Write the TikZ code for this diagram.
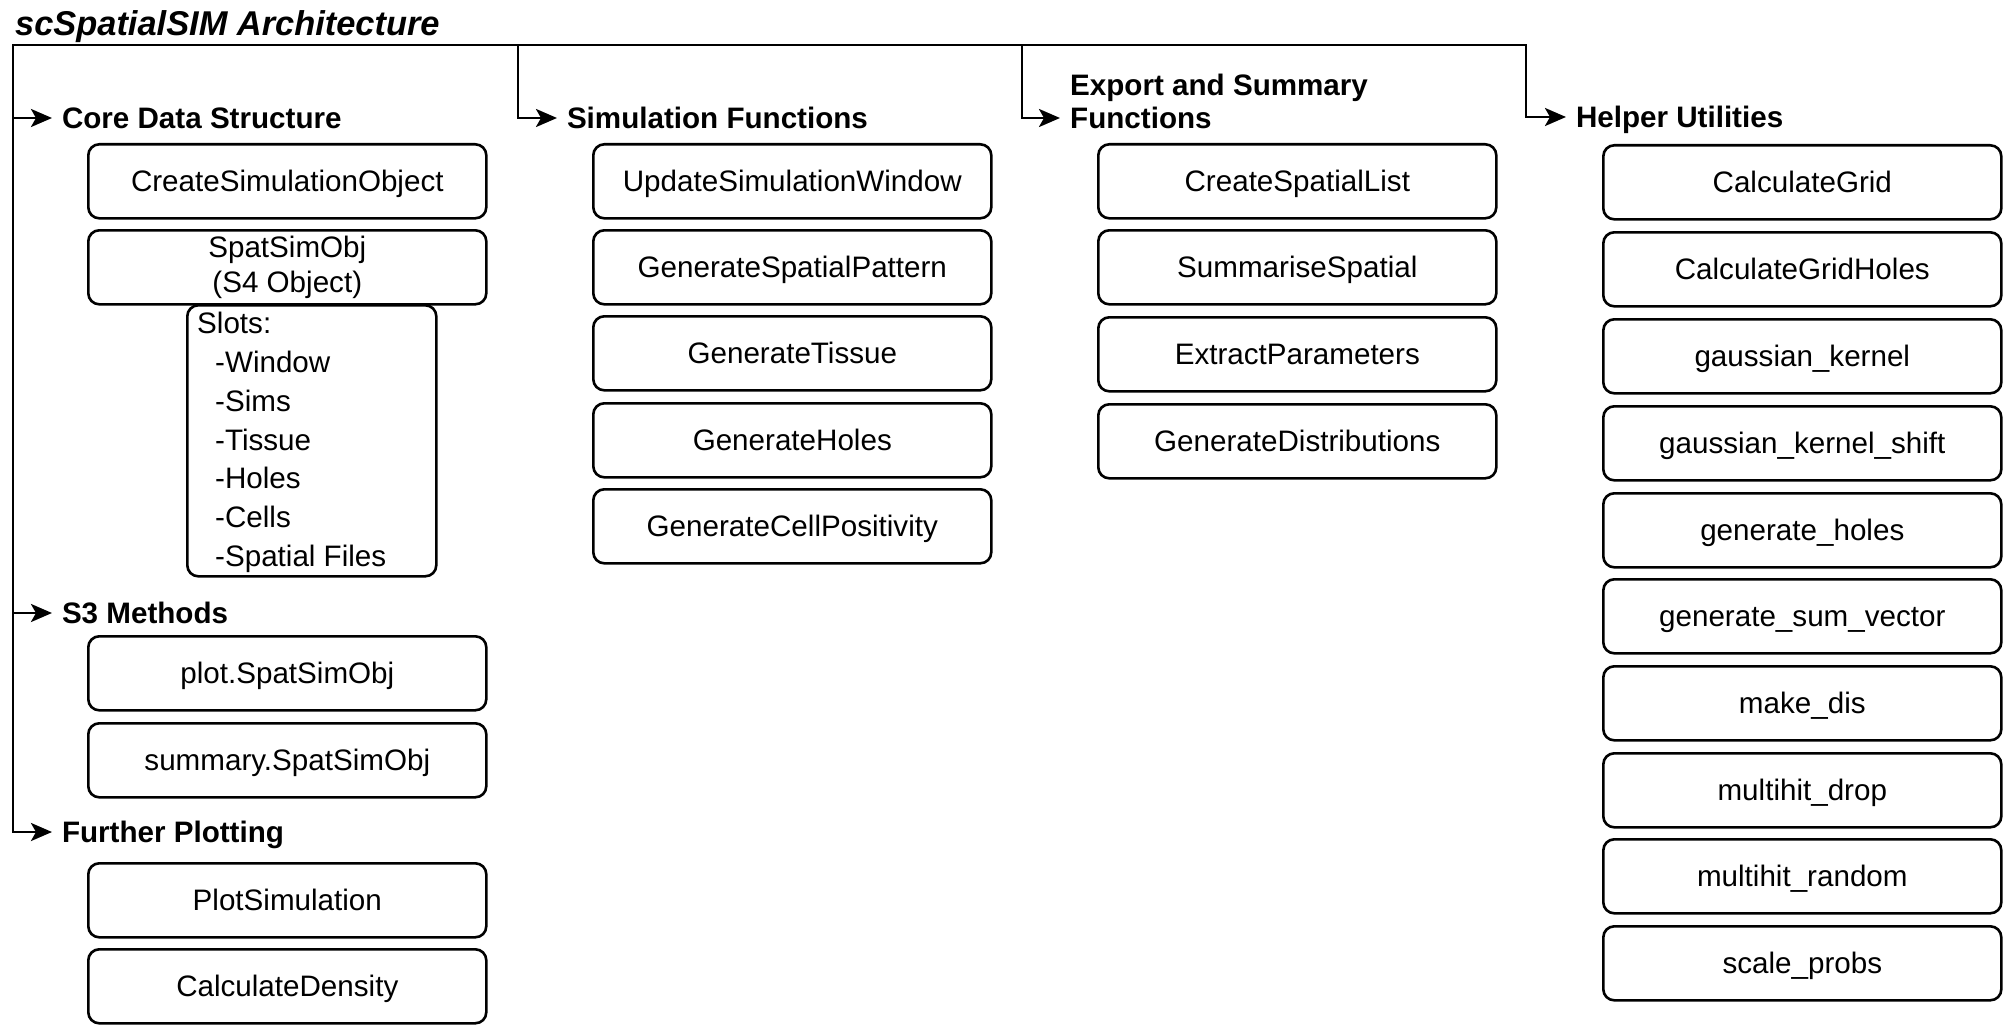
\documentclass[tikz,border=0pt]{standalone}
\usepackage{fontspec}
\setmainfont{Liberation Sans}
\usetikzlibrary{arrows.meta}
\begin{document}
\begin{tikzpicture}[x=1pt,y=-1pt,
  fboxbase/.style={draw, line width=2.6pt, rounded corners=11pt, minimum width=398pt, minimum height=74pt,
    anchor=north west, inner sep=0pt, font=\fontsize{29.6}{35}\selectfont, align=center},
  fbox/.style={fboxbase, text height=26.8pt, text depth=6.3pt},
  head/.style={anchor=west, inner sep=0pt, outer xsep=10pt, font=\bfseries\fontsize{29.6}{33}\selectfont,
    text height=21pt, text depth=0pt},
  conn/.style={line width=2.8pt, line cap=rect},
  arr/.style={conn, -{Stealth[length=21pt,width=18pt,inset=5pt]}}
]
\useasboundingbox (0,0) rectangle (2011,1030);

% title
\node[anchor=base west, inner sep=0pt, font=\bfseries\itshape\fontsize{34.4}{40}\selectfont] (title) at (15,36) {scSpatialSIM Architecture};

% junctions
\coordinate (root) at (13,45);
\coordinate (j2) at (518,45);
\coordinate (j3) at (1022,45);
\coordinate (j4) at (1526,45);
\coordinate (h3in) at (1060,118);

% headers
\node[head] (h1) at (52,118) {Core Data Structure};
\node[head] (h2) at (557,118) {Simulation Functions};
\node[anchor=north west, inner sep=0pt, align=left, font=\bfseries\fontsize{29.6}{33}\selectfont] (h3) at (1070,74) {Export and Summary\\Functions};
\node[head] (h4) at (1566,117) {Helper Utilities};
\node[head] (h5) at (52,613) {S3 Methods};
\node[head] (h6) at (52,832) {Further Plotting};

% connectors
\draw[arr] (j4) -- (root) |- (h6.west);
\draw[arr] (root) |- (h1.west);
\draw[arr] (root) |- (h5.west);
\draw[arr] (j2) |- (h2.west);
\draw[arr] (j3) |- (h3in);
\draw[arr] (j4) |- (h4.west);

% column 1
\node[fbox] (c1a) at (87,143) {CreateSimulationObject};
\node[fboxbase] (c1b) at (87,229) {SpatSimObj\\(S4 Object)};
\node[draw, line width=2.6pt, rounded corners=11pt, minimum width=249pt, minimum height=271pt, anchor=north west, inner sep=0pt] (slots) at (186,304) {};
\node[anchor=north west, inner sep=0pt, align=left, font=\fontsize{29.6}{38.8}\selectfont] (slotstxt) at (197,312)
  {Slots:\\\hspace*{18pt}-Window\\\hspace*{18pt}-Sims\\\hspace*{18pt}-Tissue\\\hspace*{18pt}-Holes\\\hspace*{18pt}-Cells\\\hspace*{18pt}-Spatial Files};
\node[fbox] (c1c) at (87,635) {plot.SpatSimObj};
\node[fbox] (c1d) at (87,722) {summary.SpatSimObj};
\node[fbox] (c1e) at (87,862) {PlotSimulation};
\node[fbox] (c1f) at (87,948) {CalculateDensity};

% column 2
\node[fbox] (c2a) at (592,143) {UpdateSimulationWindow};
\node[fbox] (c2b) at (592,229) {GenerateSpatialPattern};
\node[fbox] (c2c) at (592,315) {GenerateTissue};
\node[fbox] (c2d) at (592,402) {GenerateHoles};
\node[fbox] (c2e) at (592,488) {GenerateCellPositivity};

% column 3
\node[fbox] (c3a) at (1097,143) {CreateSpatialList};
\node[fbox] (c3b) at (1097,229) {SummariseSpatial};
\node[fbox] (c3c) at (1097,316) {ExtractParameters};
\node[fbox] (c3d) at (1097,403) {GenerateDistributions};

% column 4
\node[fbox] (c4a) at (1602,144) {CalculateGrid};
\node[fbox] (c4b) at (1602,231) {CalculateGridHoles};
\node[fbox] (c4c) at (1602,318) {gaussian\_kernel};
\node[fbox] (c4d) at (1602,405) {gaussian\_kernel\_shift};
\node[fbox] (c4e) at (1602,492) {generate\_holes};
\node[fbox] (c4f) at (1602,578) {generate\_sum\_vector};
\node[fbox] (c4g) at (1602,665) {make\_dis};
\node[fbox] (c4h) at (1602,752) {multihit\_drop};
\node[fbox] (c4i) at (1602,838) {multihit\_random};
\node[fbox] (c4j) at (1602,925) {scale\_probs};
\end{tikzpicture}
\end{document}
